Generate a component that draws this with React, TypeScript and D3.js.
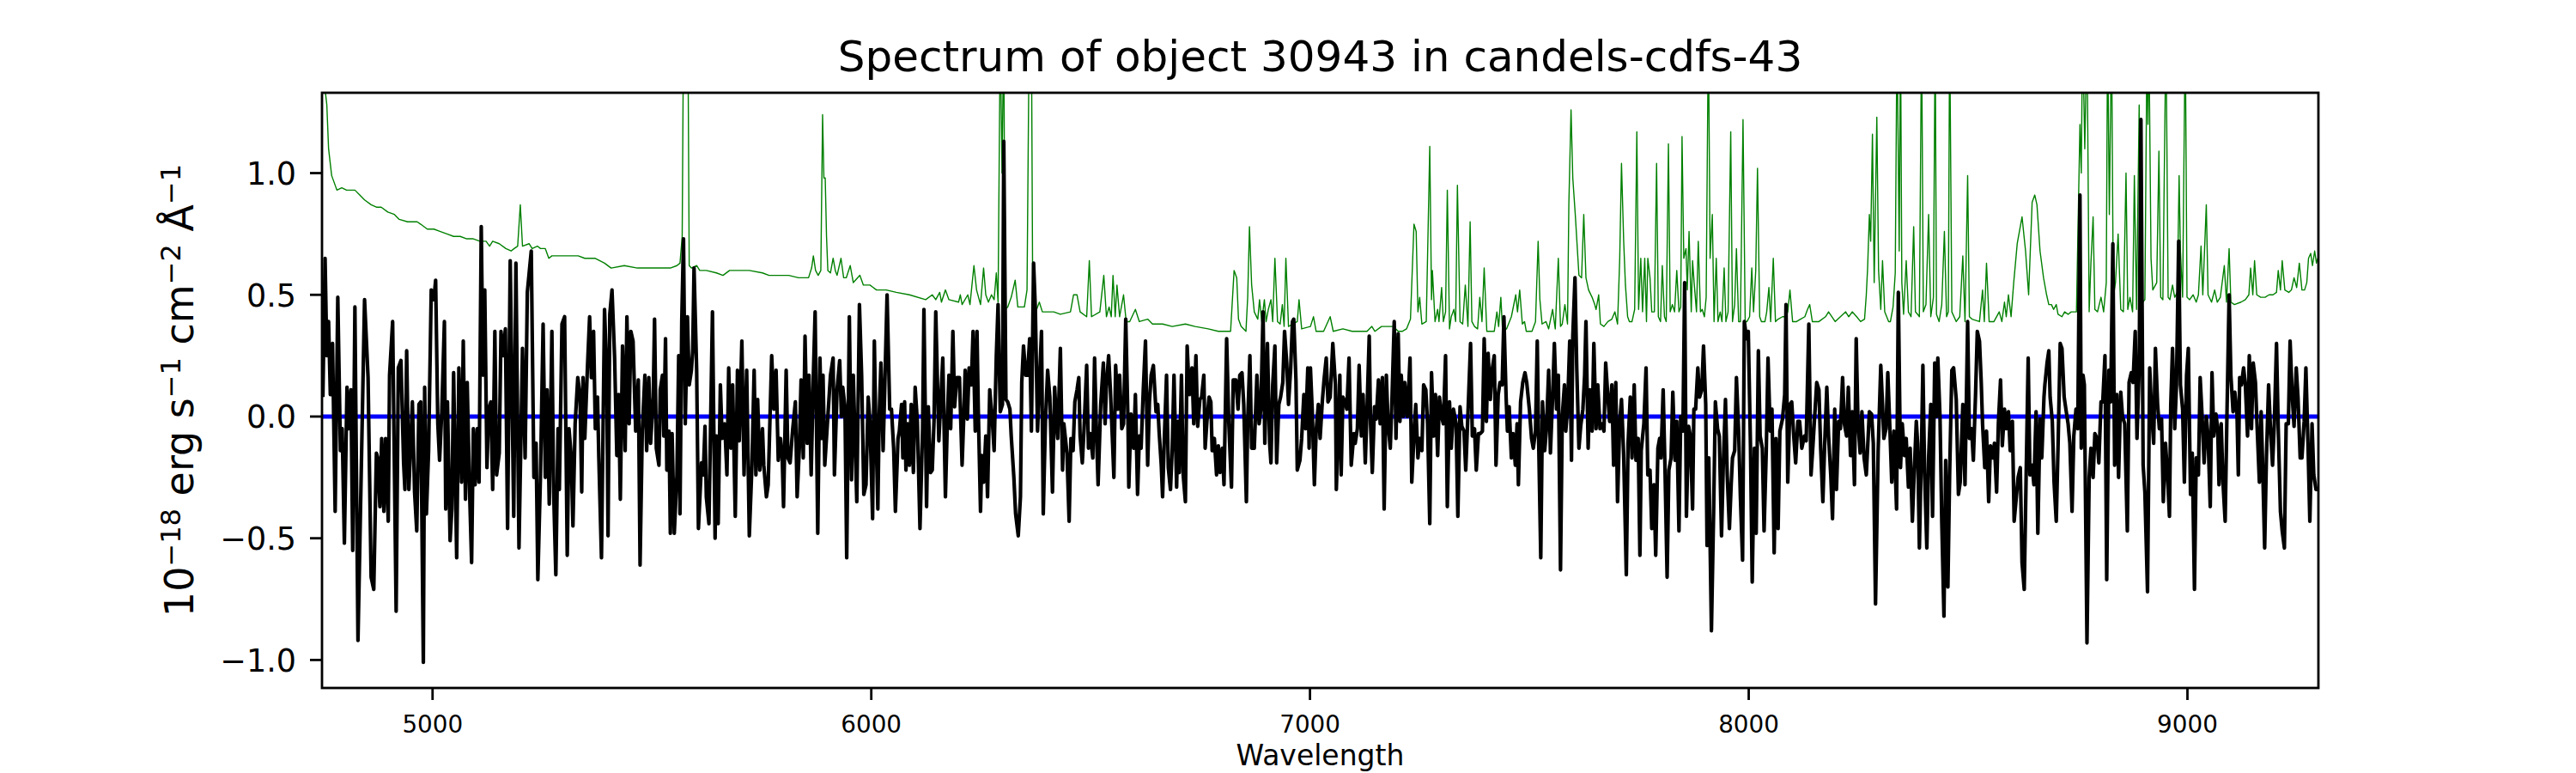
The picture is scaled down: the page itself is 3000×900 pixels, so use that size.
import * as d3 from "d3";

// spectrum (black): [wavelength, flux]
const fluxPoints: [number, number][] = [
  [4750,0.08],[4755,0.65],[4759,0.25],[4763,0.39],[4767,0.09],[4772,0.30],[4778,-0.39],[4784,0.49],[4790,-0.14],[4794,-0.05],
  [4799,-0.52],[4805,0.12],[4809,-0.05],[4814,0.11],[4818,-0.55],[4823,0.45],[4830,-0.92],[4845,0.48],[4853,0.16],[4860,-0.66],
  [4866,-0.71],[4872,-0.15],[4875,-0.17],[4880,-0.37],[4884,-0.09],[4889,-0.39],[4893,-0.09],[4899,-0.43],[4902,0.17],[4909,0.39],
  [4917,-0.80],[4922,0.20],[4928,0.23],[4934,-0.19],[4937,-0.30],[4941,0.27],[4946,-0.30],[4954,0.06],[4959,-0.31],[4964,-0.47],
  [4969,0.05],[4973,0.06],[4979,-1.01],[4982,0.12],[4986,-0.40],[4991,-0.14],[4997,0.52],[5003,0.48],[5007,0.56],[5012,-0.03],
  [5016,-0.18],[5021,0.02],[5027,0.39],[5030,-0.38],[5034,0.06],[5040,-0.51],[5044,-0.38],[5048,0.18],[5055,-0.58],[5060,0.20],
  [5066,-0.27],[5070,0.31],[5075,-0.34],[5079,0.14],[5084,-0.28],[5089,-0.60],[5093,-0.05],[5097,-0.28],[5102,-0.05],[5106,-0.27],
  [5111,0.78],[5115,0.17],[5119,0.52],[5124,-0.21],[5128,0.03],[5133,0.06],[5137,-0.30],[5142,0.35],[5146,-0.24],[5152,-0.15],
  [5156,0.35],[5161,0.25],[5166,0.36],[5171,-0.46],[5177,0.64],[5185,-0.41],[5190,0.63],[5197,-0.54],[5205,0.28],[5211,-0.17],
  [5216,0.51],[5225,0.68],[5231,-0.25],[5236,-0.11],[5240,-0.67],[5246,-0.24],[5252,0.38],[5257,-0.25],[5261,0.11],[5266,-0.36],
  [5272,0.35],[5276,-0.31],[5281,-0.65],[5286,-0.05],[5289,-0.30],[5295,0.38],[5301,0.41],[5307,-0.57],[5311,-0.05],[5316,-0.16],
  [5320,-0.45],[5325,-0.03],[5331,0.16],[5336,0.09],[5340,-0.31],[5343,0.16],[5347,-0.09],[5353,0.20],[5358,0.41],[5362,0.16],
  [5367,0.35],[5371,-0.05],[5376,0.08],[5379,-0.17],[5385,-0.58],[5392,0.44],[5397,0.18],[5400,-0.49],[5404,0.42],[5409,0.52],
  [5415,0.24],[5420,-0.16],[5424,0.09],[5428,-0.34],[5433,0.29],[5439,-0.14],[5443,0.41],[5448,-0.03],[5452,0.35],[5457,0.31],
  [5463,-0.06],[5469,0.15],[5473,-0.61],[5478,-0.06],[5484,0.17],[5488,-0.14],[5493,0.16],[5497,-0.11],[5503,0.08],[5506,0.40],
  [5510,-0.13],[5516,-0.20],[5519,0.11],[5524,0.17],[5527,-0.08],[5531,0.32],[5534,-0.22],[5539,-0.06],[5542,-0.48],[5546,-0.07],
  [5551,-0.48],[5557,-0.24],[5561,0.25],[5564,-0.40],[5568,0.39],[5572,0.73],[5576,-0.03],[5581,0.41],[5585,0.13],[5590,0.19],
  [5593,0.27],[5596,0.61],[5602,0.19],[5606,-0.46],[5613,-0.19],[5617,-0.24],[5621,-0.04],[5624,-0.33],[5630,-0.44],[5638,0.43],
  [5644,-0.50],[5647,-0.08],[5651,-0.44],[5656,0.13],[5660,-0.09],[5666,-0.03],[5671,-0.24],[5675,0.20],[5680,-0.13],[5684,0.13],
  [5690,-0.41],[5695,0.19],[5699,-0.10],[5705,0.31],[5710,-0.24],[5716,0.19],[5722,-0.49],[5728,-0.20],[5733,0.19],[5737,-0.24],
  [5741,0.07],[5746,-0.22],[5752,-0.05],[5755,-0.20],[5761,-0.33],[5765,-0.28],[5773,0.25],[5778,0.03],[5783,0.19],[5788,-0.18],
  [5793,-0.09],[5797,-0.17],[5800,-0.37],[5806,0.19],[5810,-0.17],[5815,-0.19],[5821,-0.05],[5827,0.06],[5831,-0.33],[5836,-0.13],
  [5840,0.15],[5845,-0.17],[5849,0.33],[5854,-0.11],[5858,0.17],[5863,-0.24],[5868,0.17],[5872,0.43],[5878,-0.48],[5883,0.24],
  [5887,-0.09],[5890,0.17],[5894,-0.20],[5907,0.17],[5913,0.24],[5916,-0.24],
  [5922,0.11],[5928,0.23],[5932,0.00],[5935,0.12],[5940,0.04],[5944,-0.58],[5950,0.41],[5955,-0.26],[5959,0.17],[5967,-0.35],
  [5973,0.46],[5978,0.17],[5983,-0.32],[5988,-0.28],[5993,0.08],[5997,-0.02],[6003,-0.42],[6007,0.31],[6010,0.00],[6015,-0.38],
  [6018,0.00],[6022,0.22],[6027,-0.14],[6031,0.14],[6036,0.50],[6042,0.03],[6046,0.03],[6051,-0.13],[6055,-0.39],[6061,-0.09],
  [6064,-0.06],[6069,0.05],[6072,-0.17],[6076,0.06],[6079,-0.22],[6083,-0.03],[6087,-0.20],[6091,0.05],[6096,-0.23],[6100,0.12],
  [6105,-0.02],[6111,-0.46],[6117,-0.05],[6120,0.44],[6126,-0.37],[6130,0.04],[6135,-0.23],[6139,-0.22],[6143,-0.02],[6147,0.43],
  [6154,-0.10],[6163,0.24],[6169,-0.33],[6174,0.02],[6177,0.17],[6181,-0.05],[6186,0.35],[6190,0.04],[6195,0.16],[6201,0.16],
  [6207,-0.20],[6211,0.01],[6214,0.19],[6219,-0.01],[6223,0.20],[6228,0.13],[6232,0.35],[6237,-0.06],[6241,0.35],[6244,0.02],
  [6249,-0.39],[6252,-0.16],[6256,-0.27],[6261,-0.08],[6265,-0.33],[6270,0.11],[6276,-0.02],[6280,-0.14],[6285,0.25],[6289,0.46],
  [6294,0.02],[6299,0.05],[6302,1.13],[6307,0.07],[6311,0.06],[6316,0.03],[6319,-0.08],[6325,-0.25],[6329,-0.40],[6335,-0.49],
  [6340,-0.33],[6343,0.14],[6347,0.29],[6352,0.17],[6356,0.17],[6361,0.32],[6365,-0.06],[6370,0.63],[6374,0.44],[6379,-0.06],
  [6383,0.13],[6388,0.35],[6392,-0.40],[6397,-0.02],[6402,0.19],[6407,0.08],[6413,-0.31],[6418,0.12],[6422,-0.02],[6425,-0.09],
  [6431,0.28],[6436,-0.22],[6439,-0.03],[6446,-0.15],[6451,-0.43],[6455,-0.09],[6460,-0.14],[6464,0.06],[6469,0.11],[6473,0.16],
  [6476,-0.08],[6481,-0.19],[6485,-0.05],[6491,0.21],[6495,-0.13],[6499,-0.07],[6505,-0.17],[6509,0.24],[6514,-0.11],[6517,-0.28],
  [6523,0.05],[6529,0.22],[6533,-0.03],[6536,0.13],[6541,0.25],[6545,0.11],[6550,-0.11],[6553,-0.25],[6557,0.21],[6562,0.03],
  [6566,0.17],[6571,-0.05],[6575,-0.03],[6580,0.40],[6585,-0.01],[6587,-0.29],[6592,0.01],[6598,-0.13],[6602,0.09],[6607,-0.32],
  [6611,-0.08],[6615,-0.13],[6620,0.11],[6625,0.31],[6630,-0.20],[6634,0.06],[6638,0.17],[6643,0.21],[6649,0.02],[6653,0.05],
  [6656,-0.06],[6661,-0.20],[6664,-0.33],[6668,-0.09],[6673,0.17],[6677,-0.21],[6682,-0.30],[6686,-0.13],[6690,0.17],[6696,-0.29],
  [6699,-0.02],[6702,-0.23],[6707,0.17],[6711,-0.24],[6716,-0.35],[6720,0.29],[6725,0.09],[6731,0.20],[6735,-0.03],[6740,0.25],
  [6744,-0.04],[6749,0.07],[6753,0.08],[6758,0.17],[6761,-0.13],[6765,-0.02],[6770,0.08],[6774,0.06],[6777,-0.14],[6782,-0.09],
  [6787,-0.24],[6791,-0.12],[6795,-0.23],[6800,-0.13],[6804,-0.28],[6810,0.32],[6815,-0.03],[6821,-0.29],[6825,0.15],[6831,0.15],
  [6836,0.03],[6840,0.17],[6845,0.18],[6849,0.05],[6855,-0.35],[6858,-0.02],[6863,0.25],[6867,-0.13],[6873,-0.13],[6879,0.17],
  [6884,-0.03],[6888,0.03],[6893,0.43],[6897,-0.11],[6903,0.30],[6908,-0.11],[6911,-0.19],[6915,0.13],[6920,0.29],[6924,-0.19],
  [6929,0.05],[6933,0.08],[6938,0.14],[6942,0.35],[6947,0.22],[6951,0.05],[6956,0.20],[6960,0.39],[6963,0.40],[6968,0.15],
  [6971,-0.22],[6977,-0.18],[6981,-0.09],[6986,0.09],[6990,-0.05],[6995,0.20],[6998,-0.13],[7001,0.20],[7005,0.03],[7010,-0.28],
  [7014,-0.06],[7019,0.05],[7023,-0.09],[7028,0.06],[7032,0.15],[7037,0.24],[7041,0.06],[7046,0.08],[7052,0.30],[7058,0.13],
  [7060,-0.30],[7065,-0.02],[7068,0.17],[7071,-0.24],[7075,0.08],[7080,0.06],[7084,0.03],[7089,0.24],[7094,-0.20],
  [7100,-0.07],[7103,-0.11],[7108,-0.05],[7112,0.21],[7117,-0.08],[7121,0.09],[7126,-0.19],[7130,0.03],[7135,0.33],[7138,-0.03],
  [7142,-0.23],[7147,0.04],[7151,-0.01],[7156,0.15],[7160,-0.03],[7165,0.16],[7169,-0.38],[7174,0.17],[7178,-0.03],[7183,-0.13],
  [7187,0.08],[7192,0.39],[7196,-0.09],[7201,0.34],[7205,-0.02],[7208,0.17],[7213,0.00],[7216,0.14],[7222,0.00],[7228,0.24],
  [7232,-0.27],[7237,-0.08],[7241,0.05],[7246,-0.17],[7250,-0.09],[7255,-0.14],[7259,0.13],[7264,0.11],[7268,-0.03],[7273,-0.44],
  [7277,0.18],[7282,-0.08],[7286,0.09],[7291,-0.16],[7295,0.08],[7300,0.00],[7304,-0.03],[7309,0.25],[7313,-0.37],[7318,0.06],
  [7322,-0.13],[7327,0.03],[7333,-0.03],[7337,-0.41],[7342,0.04],[7346,-0.04],[7351,-0.06],[7355,-0.22],[7360,0.01],[7366,0.30],
  [7370,-0.08],[7375,-0.05],[7379,-0.22],[7384,-0.07],[7388,-0.07],[7393,-0.06],[7397,0.32],[7402,-0.02],[7406,0.26],[7411,0.07],
  [7415,0.19],[7420,0.25],[7424,-0.20],[7429,0.09],[7433,0.14],[7438,0.13],[7442,0.41],[7447,0.08],[7450,-0.06],[7454,0.04],
  [7459,-0.17],[7463,-0.07],[7468,-0.20],[7472,-0.03],[7475,-0.28],[7480,0.06],[7485,0.14],[7490,0.18],[7494,0.14],[7500,0.03],
  [7505,-0.09],[7509,-0.13],[7514,-0.06],[7518,0.31],[7521,-0.08],[7526,-0.58],[7530,0.06],[7535,-0.14],[7539,-0.05],[7544,0.19],
  [7548,-0.15],[7553,0.08],[7557,0.30],[7562,0.03],[7566,0.17],[7571,-0.63],[7575,0.00],[7580,0.13],[7583,-0.06],[7587,0.03],
  [7592,0.31],[7596,-0.18],[7599,0.33],[7604,0.57],[7608,0.20],[7613,-0.13],[7617,-0.04],[7622,0.03],[7626,0.17],[7629,0.39],
  [7634,-0.13],[7638,0.11],[7643,-0.06],[7647,0.30],[7652,-0.05],[7656,0.13],[7661,-0.05],[7665,-0.03],[7670,-0.06],[7674,0.22],
  [7679,0.08],[7683,-0.02],[7688,0.13],[7692,-0.20],[7697,0.14],[7701,-0.35],[7706,-0.02],[7710,0.07],[7715,-0.16],[7721,-0.65],
  [7725,-0.11],[7730,0.08],[7734,-0.17],[7739,0.13],[7743,-0.18],[7748,-0.09],[7752,-0.57],[7755,-0.14],[7761,-0.03],[7766,0.20],
  [7770,-0.24],[7775,-0.22],[7779,-0.46],[7784,-0.28],[7788,-0.57],[7793,-0.13],[7797,-0.09],[7800,-0.17],[7805,0.11],[7809,-0.20],
  [7814,-0.66],[7818,-0.22],[7823,-0.17],[7827,0.10],[7832,-0.18],[7836,-0.02],[7841,-0.47],[7845,0.00],[7850,-0.06],[7854,0.55],
  [7858,-0.41],[7863,-0.04],[7867,-0.08],[7872,-0.38],[7875,0.03],[7879,0.03],[7884,0.20],[7888,0.08],[7893,0.11],[7897,0.29],
  [7902,0.05],[7905,-0.53],[7909,-0.17],[7915,-0.88],[7920,-0.39],[7924,0.06],[7929,-0.05],[7933,-0.08],[7938,-0.49],[7942,-0.20],
  [7947,0.07],[7951,-0.24],[7956,-0.46],[7960,-0.28],[7963,-0.17],[7968,-0.14],[7972,0.16],[7977,-0.06],[7981,-0.33],[7986,-0.59],
  [7990,0.39],[7995,0.32],[7999,0.35],[8004,-0.12],[8008,-0.68],[8013,-0.13],[8017,-0.48],[8022,0.27],[8026,-0.08],[8031,-0.13],
  [8035,-0.47],[8040,-0.14],[8044,0.24],[8049,-0.06],[8053,0.03],[8058,-0.56],[8062,-0.09],[8067,-0.46],[8071,-0.06],[8077,-0.01],
  [8082,0.09],[8085,0.46],[8089,-0.27],[8094,0.05],[8098,0.06],[8103,-0.09],[8107,-0.19],[8112,-0.02],[8116,-0.02],[8121,-0.13],
  [8127,-0.08],[8131,-0.10],[8137,0.38],[8142,-0.24],[8146,-0.13],[8151,0.02],[8155,0.14],[8160,0.11],[8164,-0.13],[8169,-0.35],
  [8173,-0.12],[8178,0.12],[8182,-0.08],[8187,-0.24],[8191,-0.42],[8196,0.03],[8200,-0.30],[8205,-0.02],[8209,-0.05],[8214,0.16],
  [8218,-0.03],[8223,-0.08],[8227,0.12],[8232,-0.16],[8236,0.02],[8241,-0.28],[8245,0.32],[8249,-0.02],[8254,-0.15],[8258,0.02],
  [8263,-0.17],[8268,-0.24],
  [8275,0.02],[8280,0.01],[8284,-0.11],[8289,-0.77],[8295,-0.14],[8301,0.21],[8305,0.05],[8308,-0.09],[8313,-0.05],[8317,0.18],
  [8322,-0.06],[8326,-0.27],[8331,-0.06],[8337,-0.38],[8341,0.51],[8346,-0.21],[8350,-0.03],[8355,-0.16],[8359,-0.09],[8364,-0.29],
  [8368,-0.13],[8373,-0.43],[8377,-0.24],[8382,-0.02],[8385,-0.11],[8389,-0.54],[8394,-0.11],[8397,0.21],[8401,-0.24],[8406,-0.54],
  [8410,-0.17],[8415,0.05],[8419,-0.41],[8424,0.22],[8428,0.00],[8431,0.24],[8436,0.00],[8440,-0.43],[8445,-0.82],[8449,-0.18],
  [8454,-0.70],[8458,-0.23],[8463,0.19],[8467,0.20],[8473,0.07],[8478,-0.32],[8482,-0.27],[8488,0.05],[8493,-0.28],[8499,0.39],
  [8503,-0.09],[8508,-0.05],[8512,-0.18],[8517,0.09],[8521,0.35],[8526,0.31],[8530,0.14],[8533,-0.03],[8538,-0.21],[8542,-0.06],
  [8547,-0.35],[8551,-0.12],[8556,-0.17],[8560,-0.11],[8565,-0.31],[8569,-0.03],[8574,0.15],[8578,-0.12],[8583,0.03],[8587,-0.05],
  [8592,0.02],[8596,-0.14],[8601,-0.02],[8605,-0.43],[8610,-0.33],[8614,-0.25],[8619,-0.21],[8623,-0.60],[8628,-0.71],[8632,-0.28],
  [8637,0.24],[8641,-0.24],[8646,-0.20],[8650,-0.28],[8655,0.02],[8659,-0.48],[8664,-0.01],[8668,-0.17],[8673,0.08],[8675,0.13],
  [8680,0.22],[8684,0.27],[8687,0.08],[8692,-0.02],[8696,-0.27],[8701,-0.43],[8705,-0.13],[8710,0.30],[8714,0.28],[8719,0.08],
  [8723,0.03],[8728,-0.03],[8732,-0.11],[8737,-0.39],[8741,-0.08],[8746,0.03],[8750,-0.05],[8755,0.91],[8758,-0.13],[8762,0.17],
  [8765,0.13],[8771,-0.93],[8776,-0.25],[8780,-0.13],[8785,-0.25],[8789,-0.07],[8794,-0.09],[8798,-0.19],[8803,0.06],[8807,0.06],
  [8812,0.25],[8816,-0.67],[8821,0.19],[8825,0.06],[8830,0.71],[8834,-0.20],[8839,0.09],[8843,-0.25],[8848,0.10],[8852,0.00],
  [8857,-0.03],[8863,-0.47],[8867,0.14],[8872,0.18],[8876,0.14],[8881,0.35],[8885,-0.09],[8890,0.20],[8894,1.22],[8899,-0.20],
  [8903,-0.31],[8909,-0.72],[8914,0.20],[8918,0.03],[8923,-0.11],[8927,0.28],[8932,0.05],[8936,-0.05],[8941,-0.01],[8945,-0.35],
  [8950,-0.11],[8954,-0.22],[8959,-0.41],[8962,0.05],[8966,0.28],[8971,-0.05],[8975,0.13],[8980,0.72],[8984,0.13],[8989,0.03],
  [8993,-0.27],[8998,0.17],[9002,0.28],[9007,-0.32],[9011,-0.15],[9016,-0.71],[9020,-0.17],[9025,-0.24],[9029,0.16],[9034,-0.02],
  [9038,-0.19],[9043,0.00],[9047,-0.08],[9052,-0.37],[9056,0.18],[9060,-0.08],[9065,0.01],[9069,-0.05],[9072,-0.28],[9077,-0.03],
  [9081,-0.27],[9086,-0.43],[9090,0.00],[9095,0.50],[9099,0.17],[9104,0.02],[9108,0.10],[9113,0.01],[9116,-0.24],[9119,0.16],
  [9123,0.13],[9128,0.20],[9132,0.13],[9137,-0.08],[9141,0.25],[9146,-0.05],[9150,0.22],[9155,0.14],[9159,-0.05],[9164,-0.27],
  [9168,0.02],[9171,-0.17],[9176,-0.54],[9180,-0.17],[9185,0.13],[9189,-0.04],[9194,-0.20],[9198,-0.03],[9203,0.30],[9207,-0.05],
  [9212,-0.39],[9216,-0.47],[9221,-0.54],[9225,-0.03],[9230,-0.03],[9234,0.31],[9239,0.08],[9243,-0.04],[9248,0.20],[9252,0.08],
  [9257,-0.17],[9261,-0.17],[9266,-0.02],[9270,0.20],[9275,-0.13],[9279,-0.43],[9284,-0.03],[9288,-0.24],[9293,-0.30],[9297,-0.30],
];

// noise spectrum (green): [wavelength, sigma]; sky lines run off the top
const errorPoints: [number, number][] = [
  [4749,1.45],[4754,1.36],[4759,1.28],[4763,1.10],[4770,0.99],[4782,0.93],[4793,0.94],[4804,0.93],[4815,0.93],[4823,0.93],
  [4834,0.91],[4845,0.89],[4860,0.87],[4872,0.86],[4883,0.86],[4898,0.84],[4913,0.83],[4924,0.81],[4943,0.80],[4954,0.80],
  [4965,0.80],[4973,0.79],[4988,0.77],[5003,0.77],[5018,0.76],[5033,0.75],[5048,0.74],[5063,0.74],[5078,0.73],[5093,0.73],
  [5108,0.72],[5122,0.72],[5130,0.70],[5137,0.72],[5152,0.71],[5167,0.69],[5179,0.68],[5186,0.69],[5194,0.70],[5200,0.87],
  [5205,0.70],[5220,0.71],[5227,0.69],[5239,0.70],[5246,0.69],[5257,0.69],[5265,0.65],[5272,0.66],[5287,0.66],[5317,0.66],
  [5332,0.66],[5347,0.65],[5370,0.65],[5392,0.63],[5407,0.61],[5437,0.62],[5467,0.61],[5497,0.61],[5527,0.61],[5542,0.61],
  [5557,0.62],[5564,0.63],[5569,0.74],[5572,1.60],[5578,1.60],[5582,1.60],[5585,0.62],[5590,0.61],[5602,0.62],[5609,0.60],
  [5624,0.60],[5647,0.59],[5662,0.58],[5677,0.60],[5699,0.60],[5722,0.60],[5752,0.59],[5767,0.58],[5789,0.58],[5812,0.58],
  [5834,0.57],[5857,0.57],[5864,0.61],[5868,0.66],[5873,0.60],[5879,0.58],[5885,0.60],[5889,1.24],[5892,0.98],[5895,0.98],
  [5898,0.74],[5901,0.60],[5907,0.59],[5913,0.65],[5918,0.60],
  [5922,0.58],[5931,0.65],[5937,0.57],[5943,0.57],[5952,0.62],[5959,0.55],[5974,0.58],[5982,0.54],[5997,0.54],[6012,0.52],
  [6034,0.52],[6057,0.51],[6087,0.50],[6124,0.48],[6139,0.50],[6147,0.48],[6156,0.51],[6160,0.47],[6169,0.52],[6177,0.48],
  [6199,0.47],[6203,0.50],[6207,0.46],[6220,0.50],[6225,0.46],[6234,0.62],[6240,0.52],[6249,0.46],[6256,0.61],[6261,0.50],
  [6267,0.47],[6274,0.50],[6280,0.48],[6285,0.59],[6289,0.47],[6294,1.60],[6298,1.00],[6302,1.60],[6305,0.44],[6311,0.45],
  [6319,0.49],[6328,0.56],[6334,0.45],[6349,0.45],[6355,0.52],[6360,1.60],[6365,1.60],[6368,0.48],[6375,0.43],[6383,0.47],
  [6390,0.43],[6401,0.43],[6416,0.43],[6431,0.42],[6454,0.43],[6461,0.50],[6469,0.50],[6476,0.43],[6491,0.41],[6497,0.64],
  [6502,0.41],[6521,0.43],[6530,0.58],[6536,0.41],[6542,0.45],[6547,0.41],[6551,0.58],[6556,0.41],[6560,0.54],[6566,0.41],
  [6575,0.50],[6581,0.39],[6589,0.39],[6602,0.44],[6611,0.39],[6630,0.40],[6641,0.38],[6664,0.38],[6686,0.37],[6716,0.38],
  [6738,0.37],[6768,0.36],[6791,0.35],[6819,0.35],[6827,0.60],[6833,0.57],[6837,0.40],[6843,0.37],[6854,0.35],[6858,0.49],
  [6862,0.78],[6867,0.54],[6873,0.43],[6881,0.40],[6885,0.48],[6890,0.39],[6896,0.48],[6900,0.39],[6905,0.44],[6911,0.48],
  [6915,0.39],[6920,0.65],[6926,0.39],[6932,0.38],[6937,0.46],[6941,0.37],[6945,0.65],[6951,0.37],[6971,0.39],[6975,0.48],
  [6981,0.36],[7001,0.37],[7008,0.41],[7014,0.35],[7031,0.35],[7046,0.41],[7053,0.35],[7075,0.36],[7096,0.35],
  [7118,0.35],[7130,0.35],[7141,0.37],[7148,0.35],[7163,0.37],[7178,0.37],[7190,0.37],[7201,0.35],[7210,0.35],[7220,0.36],
  [7229,0.40],[7237,0.79],[7242,0.76],[7246,0.43],[7250,0.49],[7255,0.38],[7265,0.39],[7273,1.11],[7277,0.48],[7279,0.60],
  [7285,0.39],[7291,0.44],[7294,0.39],[7300,0.53],[7304,0.39],[7309,0.43],[7313,0.93],[7318,0.36],[7322,0.41],[7328,0.44],
  [7332,0.39],[7336,0.95],[7342,0.39],[7348,0.38],[7354,0.54],[7360,0.37],[7365,0.80],[7369,0.39],[7375,0.37],[7382,0.36],
  [7387,0.49],[7392,0.39],[7397,0.61],[7403,0.35],[7411,0.35],[7420,0.35],[7426,0.43],[7430,0.37],[7435,0.49],[7439,0.35],
  [7448,0.36],[7459,0.41],[7469,0.50],[7473,0.43],[7478,0.52],[7484,0.38],[7489,0.39],[7493,0.35],[7506,0.35],[7514,0.39],
  [7520,0.72],[7524,0.48],[7529,0.38],[7538,0.39],[7544,0.36],[7553,0.44],[7559,0.36],[7566,0.65],[7571,0.37],[7575,0.38],
  [7581,0.46],[7587,0.38],[7590,0.87],[7595,1.26],[7599,0.98],[7605,0.82],[7613,0.58],[7619,0.57],[7624,0.83],[7629,0.57],
  [7635,0.52],[7643,0.49],[7649,0.46],[7652,0.44],[7658,0.50],[7662,0.38],[7670,0.37],[7679,0.39],[7688,0.40],[7695,0.43],
  [7701,0.38],[7706,0.65],[7710,1.04],[7715,0.72],[7719,0.54],[7724,0.41],[7728,0.39],[7734,0.39],[7740,0.44],[7745,1.17],
  [7749,0.44],[7754,0.65],[7758,0.43],[7763,0.65],[7767,0.39],[7770,0.65],[7775,0.57],[7779,0.43],[7785,0.43],[7790,1.04],
  [7794,0.41],[7799,0.39],[7803,0.62],[7808,0.41],[7812,0.39],[7817,1.12],[7821,0.43],[7826,0.46],[7831,0.43],[7836,0.60],
  [7841,0.43],[7845,0.45],[7848,1.15],[7852,0.65],[7857,0.69],[7860,0.52],[7864,0.76],[7869,0.43],[7872,0.64],[7876,0.54],
  [7881,0.43],[7885,0.72],[7890,0.43],[7894,0.44],[7899,0.41],[7903,0.49],[7908,1.60],[7912,0.65],[7917,0.83],[7921,0.39],
  [7926,0.65],[7930,0.39],[7935,0.43],[7939,0.39],[7944,0.61],[7948,0.39],[7953,0.43],[7959,1.17],[7963,0.39],[7968,0.46],
  [7972,0.69],[7977,0.39],[7981,0.39],[7987,1.22],[7992,0.39],[7996,0.39],[8002,0.41],[8007,0.61],[8011,0.43],[8016,0.60],
  [8020,1.02],[8025,0.41],[8029,0.39],[8037,0.39],[8041,0.43],[8046,0.53],[8050,0.39],[8056,0.65],[8061,0.39],[8067,0.40],
  [8077,0.41],[8085,0.41],[8089,0.43],[8094,0.52],[8100,0.39],[8109,0.39],[8118,0.40],[8128,0.41],[8134,0.44],[8139,0.46],
  [8145,0.39],[8160,0.39],[8175,0.41],[8182,0.43],[8197,0.39],[8221,0.43],[8228,0.41],[8236,0.43],[8246,0.41],[8255,0.39],
  [8264,0.40],[8268,0.50],
  [8271,0.61],[8275,0.83],[8278,0.72],[8282,1.16],[8286,0.55],[8292,1.23],[8296,0.60],[8301,0.44],[8305,0.64],[8310,0.43],
  [8319,0.39],[8323,0.39],[8329,0.45],[8334,0.59],[8338,1.60],[8343,0.68],[8346,1.60],[8349,0.55],[8353,0.42],[8359,0.64],
  [8364,0.43],[8370,0.41],[8376,0.78],[8380,0.43],[8385,0.42],[8389,0.41],[8394,1.60],[8398,0.43],[8404,0.46],[8410,0.83],
  [8415,0.41],[8421,0.49],[8425,1.60],[8428,0.42],[8434,0.39],[8440,0.46],[8446,0.76],[8451,0.41],[8455,0.43],[8458,1.60],
  [8463,0.43],[8473,0.39],[8481,0.41],[8488,0.66],[8493,0.39],[8499,0.99],[8503,0.41],[8509,0.40],[8526,0.39],[8533,0.52],
  [8537,0.39],[8542,0.63],[8548,0.39],[8559,0.39],[8571,0.43],[8577,0.39],[8583,0.47],[8587,0.41],[8592,0.50],[8598,0.41],
  [8604,0.55],[8612,0.71],[8623,0.82],[8631,0.68],[8638,0.50],[8646,0.88],[8652,0.91],[8657,0.87],[8664,0.68],[8672,0.57],
  [8679,0.50],[8684,0.46],[8690,0.46],[8695,0.44],[8701,0.46],[8705,0.42],[8714,0.41],[8720,0.43],[8728,0.42],[8735,0.43],
  [8747,0.43],[8752,0.91],[8755,1.20],[8758,1.00],[8761,1.60],[8766,1.10],[8771,1.60],[8776,0.43],[8780,0.63],[8785,0.82],
  [8789,0.44],[8795,0.43],[8803,0.49],[8809,0.43],[8815,0.55],[8818,1.60],[8822,0.83],[8827,1.60],[8831,0.49],[8836,0.55],
  [8842,0.75],[8848,0.44],[8854,0.43],[8860,1.00],[8864,0.44],[8869,0.49],[8875,0.43],[8879,0.99],[8884,0.44],[8890,1.28],
  [8894,0.46],[8903,0.48],[8908,1.60],[8910,1.20],[8912,1.60],[8917,0.65],[8921,0.52],[8930,0.55],[8935,1.09],[8939,0.49],
  [8944,0.48],[8951,1.60],[8956,0.49],[8960,0.48],[8966,0.54],[8971,0.49],[8977,0.51],[8981,0.99],[8984,0.68],[8989,0.49],
  [8995,1.60],[8999,0.49],[9005,0.48],[9013,0.50],[9020,0.47],[9025,0.50],[9031,0.70],[9035,0.50],[9043,0.87],[9047,0.50],
  [9055,0.47],[9062,0.52],[9068,0.47],[9075,0.49],[9084,0.62],[9089,0.47],[9095,0.69],[9099,0.47],[9107,0.46],[9122,0.47],
  [9132,0.48],[9140,0.50],[9144,0.61],[9149,0.50],[9153,0.64],[9158,0.50],[9167,0.49],[9177,0.49],[9186,0.50],[9195,0.50],
  [9203,0.51],[9207,0.60],[9212,0.52],[9216,0.64],[9222,0.52],[9231,0.51],[9237,0.52],[9243,0.57],[9249,0.53],[9255,0.63],
  [9261,0.52],[9267,0.52],[9272,0.55],[9276,0.65],[9281,0.67],[9285,0.62],[9290,0.68],[9294,0.63],[9297,0.65],
];

const xTicks = [5000, 6000, 7000, 8000, 9000];
const yTicks = [-1.0, -0.5, 0.0, 0.5, 1.0];
const xDomain: [number, number] = [4748, 9298.5];
const yDomain: [number, number] = [-1.115, 1.33];
const zeroLevel = 0;
const title = "Spectrum of object 30943 in candels-cdfs-43";
const xLabel = "Wavelength";

const font = "DejaVu Sans, sans-serif";

export default function App() {
  const width = 3000;
  const height = 900;
  const marginLeft = 375;
  const marginRight = 300;
  const marginTop = 108;
  const marginBottom = 99;

  const x = d3.scaleLinear(xDomain, [marginLeft, width - marginRight]);
  const y = d3.scaleLinear(yDomain, [height - marginBottom, marginTop]);
  const line = d3.line<[number, number]>((d) => x(d[0]), (d) => y(d[1]));
  const fmtY = d3.format(".1f");

  const plotW = width - marginLeft - marginRight;
  const plotH = height - marginTop - marginBottom;
  const sup = 32; // superscript size
  const lift = 15;

  return (
    <>
      <style>{`body{margin:0}`}</style>
      <svg width={width} height={height} style={{ display: "block", background: "#fff" }} fontFamily={font}>
        <defs>
          <clipPath id="plot">
            <rect x={marginLeft} y={marginTop} width={plotW} height={plotH} />
          </clipPath>
        </defs>

        <g clipPath="url(#plot)" fill="none" strokeLinejoin="round">
          <path d={line(errorPoints) ?? ""} stroke="#008000" strokeWidth={1.4} />
          <path
            d={line([[xDomain[0], zeroLevel], [xDomain[1], zeroLevel]]) ?? ""}
            stroke="#0000ff"
            strokeWidth={5}
          />
          <path d={line(fluxPoints) ?? ""} stroke="#000" strokeWidth={4.2} />
        </g>

        {/* frame */}
        <rect
          x={marginLeft}
          y={marginTop}
          width={plotW}
          height={plotH}
          fill="none"
          stroke="#000"
          strokeWidth={2.8}
        />

        {/* x axis */}
        {xTicks.map((t) => (
          <g key={t} transform={`translate(${x(t)},${height - marginBottom})`}>
            <line y2={14} stroke="#000" strokeWidth={2.8} />
            <text y={51.5} textAnchor="middle" fontSize={27.8}>
              {t}
            </text>
          </g>
        ))}

        {/* y axis */}
        {yTicks.map((t) => (
          <g key={t} transform={`translate(${marginLeft},${y(t)})`}>
            <line x2={-14} stroke="#000" strokeWidth={2.8} />
            <text x={-30} y={13.3} textAnchor="end" fontSize={36.5}>
              {fmtY(t)}
            </text>
          </g>
        ))}

        <text x={marginLeft + plotW / 2} y={891} textAnchor="middle" fontSize={33}>
          {xLabel}
        </text>

        <text x={marginLeft + plotW / 2} y={83} textAnchor="middle" fontSize={50}>
          {title}
        </text>

        <text
          transform={`translate(225,${marginTop + plotH / 2}) rotate(-90)`}
          textAnchor="middle"
          fontSize={46}
        >
          10
          <tspan dy={-lift} fontSize={sup}>−18</tspan>
          <tspan dy={lift}> erg s</tspan>
          <tspan dy={-lift} fontSize={sup}>−1</tspan>
          <tspan dy={lift}> cm</tspan>
          <tspan dy={-lift} fontSize={sup}>−2</tspan>
          <tspan dy={lift}> Å</tspan>
          <tspan dy={-lift} fontSize={sup}>−1</tspan>
        </text>
      </svg>
    </>
  );
}
